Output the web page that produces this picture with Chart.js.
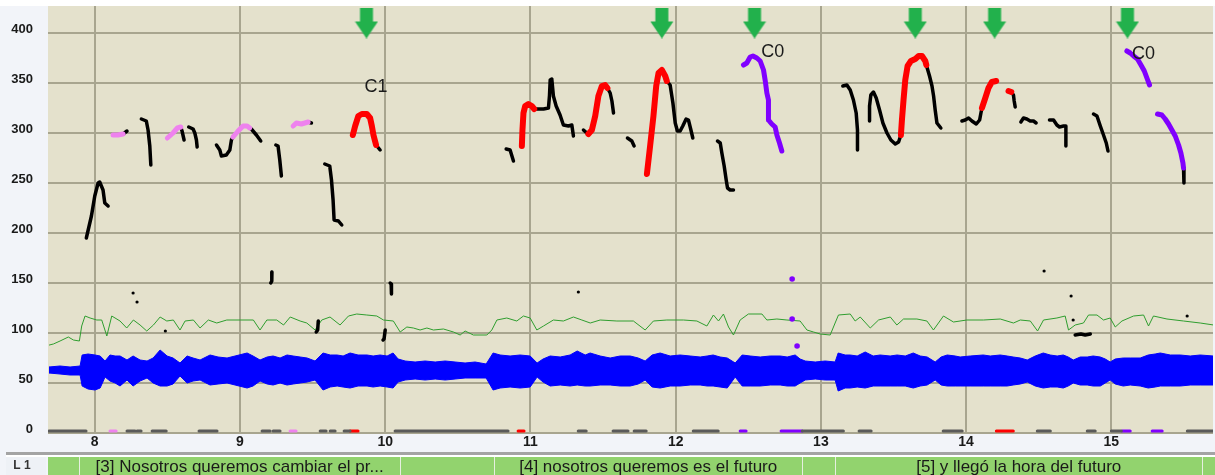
<!DOCTYPE html>
<html lang="es">
<head>
<meta charset="utf-8">
<title>Curva de F0 - L1</title>
<script src="https://cdn.jsdelivr.net/npm/chart.js@4.4.1/dist/chart.umd.min.js"></script>
<style>
    html, body { margin: 0; padding: 0; background: #f2f4f9; overflow: hidden; }
    #grafico { display: block; }
</style>
</head>
<body>
<canvas id="grafico" width="1215" height="475"></canvas>
<script>
// Ejes
const xTicks = [8, 9, 10, 11, 12, 13, 14, 15];
const yTicks = [0, 50, 100, 150, 200, 250, 300, 350, 400];
const xMin = 7.678, xMax = 15.70;
const yMin = 0, yMax = 427;

// Forma de onda (envolvente superior e inferior)
const waveTimes = [7.685, 7.761, 7.830, 7.899, 7.913, 7.954, 8.002, 8.037, 8.071, 8.105, 8.140, 8.174, 8.222, 8.264, 8.312, 8.360, 8.402, 8.450, 8.498, 8.539,
    8.587, 8.636, 8.677, 8.725, 8.794, 8.849, 8.911, 8.966, 9.049, 9.090, 9.138, 9.187, 9.228, 9.276, 9.324, 9.366, 9.414, 9.462, 9.517, 9.572,
    9.621, 9.669, 9.710, 9.758, 9.813, 9.875, 9.917, 9.965, 10.013, 10.054, 10.089, 10.137, 10.206, 10.275, 10.344, 10.413, 10.481, 10.550, 10.619, 10.695,
    10.743, 10.791, 10.860, 10.929, 10.998, 11.046, 11.087, 11.136, 11.205, 11.273, 11.322, 11.377, 11.411, 11.480, 11.549, 11.618, 11.687, 11.742, 11.790, 11.838,
    11.893, 11.962, 12.031, 12.100, 12.169, 12.217, 12.258, 12.306, 12.355, 12.410, 12.458, 12.513, 12.582, 12.651, 12.720, 12.768, 12.823, 12.857, 12.892, 12.961,
    13.030, 13.098, 13.119, 13.167, 13.202, 13.250, 13.305, 13.360, 13.408, 13.477, 13.525, 13.581, 13.636, 13.684, 13.732, 13.787, 13.828, 13.870, 13.925, 13.959,
    14.028, 14.118, 14.166, 14.235, 14.283, 14.324, 14.373, 14.421, 14.476, 14.531, 14.579, 14.627, 14.669, 14.703, 14.738, 14.786, 14.834, 14.875, 14.924, 14.958,
    14.992, 15.027, 15.082, 15.130, 15.199, 15.254, 15.302, 15.337, 15.406, 15.475, 15.543, 15.612, 15.702];
const waveUpper = [66, 67, 66, 67, 78, 79, 78, 77, 72, 78, 77, 77, 73, 77, 73, 72, 75, 83, 77, 75,
    70, 77, 75, 73, 78, 76, 75, 77, 80, 77, 73, 76, 77, 75, 78, 77, 76, 75, 72, 80,
    78, 78, 77, 80, 78, 78, 77, 78, 77, 80, 74, 72, 71, 72, 71, 72, 71, 70, 71, 69,
    80, 78, 77, 78, 77, 70, 74, 77, 76, 78, 82, 78, 80, 77, 75, 77, 77, 75, 72, 78,
    80, 77, 78, 77, 76, 77, 78, 76, 75, 70, 78, 77, 76, 77, 77, 76, 78, 74, 72, 71,
    72, 71, 80, 78, 78, 77, 81, 77, 78, 77, 78, 77, 80, 77, 76, 71, 76, 78, 77, 76,
    77, 78, 77, 78, 77, 76, 75, 73, 77, 80, 78, 77, 78, 76, 73, 76, 76, 77, 76, 74,
    71, 74, 75, 75, 75, 78, 79, 80, 78, 78, 77, 78, 77];
const waveLower = [60, 59, 58, 58, 47, 44, 43, 45, 56, 52, 50, 47, 53, 47, 52, 55, 50, 47, 47, 49,
    57, 50, 52, 53, 48, 49, 50, 48, 45, 47, 52, 49, 48, 50, 48, 49, 50, 51, 53, 43,
    46, 47, 46, 45, 47, 47, 46, 47, 46, 45, 51, 53, 54, 53, 54, 53, 54, 55, 55, 55,
    43, 45, 46, 45, 46, 56, 51, 47, 48, 47, 48, 47, 47, 48, 48, 47, 47, 49, 53, 46,
    45, 47, 47, 48, 48, 47, 47, 46, 45, 56, 47, 47, 47, 48, 48, 47, 47, 50, 53, 54,
    53, 53, 42, 45, 45, 46, 45, 47, 47, 47, 47, 47, 45, 47, 48, 53, 48, 47, 47, 47,
    47, 47, 47, 47, 47, 48, 49, 51, 47, 45, 46, 46, 45, 47, 50, 48, 48, 47, 47, 50,
    53, 49, 47, 48, 47, 45, 46, 47, 47, 47, 48, 48, 48];

// Curva de intensidad (verde)
const greenTimes = [7.687, 7.715, 7.761, 7.818, 7.853, 7.894, 7.910, 7.933, 7.968, 8.014, 8.048, 8.083, 8.117, 8.174, 8.220, 8.266, 8.312, 8.358, 8.404, 8.450,
    8.496, 8.541, 8.587, 8.622, 8.679, 8.725, 8.782, 8.840, 8.909, 9.001, 9.092, 9.138, 9.185, 9.253, 9.300, 9.346, 9.414, 9.460, 9.517, 9.563,
    9.620, 9.689, 9.747, 9.804, 9.873, 9.942, 9.988, 10.056, 10.103, 10.149, 10.194, 10.240, 10.287, 10.332, 10.401, 10.470, 10.516, 10.550, 10.607, 10.700,
    10.734, 10.769, 10.837, 10.906, 10.952, 10.998, 11.044, 11.090, 11.158, 11.227, 11.296, 11.354, 11.412, 11.480, 11.595, 11.709, 11.790, 11.847, 11.939, 12.054,
    12.146, 12.215, 12.260, 12.295, 12.329, 12.364, 12.398, 12.444, 12.501, 12.594, 12.628, 12.697, 12.766, 12.857, 12.904, 12.949, 12.995, 13.064, 13.098, 13.121,
    13.202, 13.236, 13.271, 13.340, 13.397, 13.478, 13.523, 13.569, 13.661, 13.730, 13.775, 13.844, 13.913, 14.005, 14.120, 14.235, 14.326, 14.373, 14.442, 14.492,
    14.533, 14.625, 14.682, 14.705, 14.751, 14.808, 14.843, 14.901, 14.946, 14.992, 15.027, 15.073, 15.153, 15.222, 15.256, 15.290, 15.383, 15.497, 15.612, 15.704];
const greenValues = [88, 89, 92, 96, 93, 92, 107, 117, 115, 113, 113, 97, 117, 112, 105, 113, 108, 102, 108, 116,
    112, 113, 103, 112, 113, 105, 113, 110, 113, 113, 113, 103, 113, 113, 108, 116, 112, 110, 103, 113,
    116, 108, 117, 119, 118, 117, 113, 112, 101, 106, 105, 103, 105, 103, 104, 101, 98, 102, 98, 98,
    103, 113, 115, 112, 117, 115, 103, 107, 113, 112, 116, 113, 110, 113, 112, 112, 103, 112, 113, 113,
    112, 107, 118, 112, 119, 106, 98, 113, 119, 119, 113, 114, 113, 112, 103, 101, 99, 98, 110, 118,
    119, 112, 116, 105, 113, 116, 108, 114, 114, 112, 103, 117, 111, 113, 113, 114, 110, 113, 112, 102,
    113, 115, 117, 103, 108, 110, 118, 118, 113, 115, 106, 112, 117, 118, 107, 117, 114, 112, 110, 108];

// Curvas de F0 (Hz), null = corte entre tramos
const pitchBlack = [
    [7.942, 195], [7.977, 217], [8.000, 237], [8.023, 250], [8.034, 251], [8.057, 243], [8.069, 230], [8.092, 227], null,
    [8.195, 299], [8.222, 302], null,
    [8.321, 314], [8.355, 312], [8.367, 303], [8.379, 287], [8.386, 268], null,
    [8.592, 306], [8.601, 302], [8.615, 293], null,
    [8.647, 306], [8.677, 304], [8.689, 300], [8.700, 293], [8.705, 286], null,
    [8.838, 288], [8.861, 283], [8.872, 277], [8.906, 278], [8.930, 283], [8.941, 293], [8.952, 296], null,
    [9.067, 305], [9.078, 304], [9.113, 298], [9.143, 292], null,
    [9.247, 288], [9.262, 287], [9.274, 273], [9.285, 257], null,
    [9.469, 311], [9.492, 310], null,
    [9.584, 269], [9.618, 267], [9.630, 253], [9.641, 233], [9.648, 213], [9.678, 212], [9.701, 208], null,
    [9.937, 288], [9.965, 283], null,
    [10.833, 284], [10.860, 283], [10.883, 272], null,
    [11.026, 324], [11.090, 324], [11.124, 325], [11.131, 337], [11.136, 353], [11.147, 354], [11.158, 337], [11.177, 327],
    [11.204, 318], [11.227, 308], [11.262, 307], [11.285, 308], [11.296, 297], null,
    [11.365, 303], [11.388, 300], [11.399, 299], null,
    [11.530, 345], [11.549, 340], [11.561, 332], [11.572, 320], null,
    [11.668, 295], [11.698, 292], [11.714, 287], null,
    [11.939, 352], [11.962, 348], [11.981, 330], [11.997, 310], [12.012, 302], [12.031, 302], [12.049, 307], [12.072, 314],
    [12.088, 313], [12.105, 303], [12.118, 295], null,
    [12.288, 292], [12.307, 290], [12.318, 280], [12.334, 267], [12.348, 253], [12.357, 245], [12.375, 243], [12.398, 243], null,
    [13.151, 347], [13.179, 348], [13.202, 343], [13.224, 333], [13.243, 320], [13.252, 303], [13.252, 283], null,
    [13.335, 312], [13.335, 327], [13.344, 338], [13.362, 341], [13.381, 335], [13.404, 323], [13.427, 310], [13.455, 300],
    [13.482, 293], [13.512, 289], [13.535, 291], [13.551, 298], null,
    [13.726, 368], [13.748, 357], [13.765, 347], [13.776, 337], [13.787, 323], [13.799, 310], [13.826, 305], null,
    [13.971, 312], [13.994, 313], [14.017, 315], [14.040, 312], [14.070, 309], [14.093, 313], [14.102, 320], [14.109, 325], null,
    [14.311, 341], [14.326, 338], [14.331, 332], [14.338, 326], null,
    [14.377, 311], [14.395, 315], [14.418, 314], [14.441, 312], [14.464, 312], [14.482, 310], null,
    [14.574, 313], [14.602, 313], [14.625, 308], [14.643, 306], [14.671, 307], [14.687, 307], [14.687, 287], null,
    [14.877, 319], [14.901, 317], [14.924, 307], [14.946, 298], [14.965, 290], [14.977, 282], null,
    [15.497, 265], [15.500, 250], null,
    [9.220, 161], [9.219, 152], [9.212, 150], null,
    [10.034, 150], [10.041, 149], [10.043, 139], null,
    [9.539, 112], [9.535, 103], [9.525, 101], null,
    [10.000, 103], [9.992, 94], [9.985, 93], null,
    [14.751, 98], [14.790, 99], [14.820, 98], [14.855, 99]
];
const pitchRed = [
    [9.777, 298], [9.793, 307], [9.815, 317], [9.839, 319], [9.873, 319], [9.896, 315], [9.908, 307], [9.919, 298], [9.937, 288], null,
    [10.941, 287], [10.945, 303], [10.952, 320], [10.964, 327], [10.986, 329], [11.009, 327], [11.026, 324], null,
    [11.399, 299], [11.423, 303], [11.446, 317], [11.468, 337], [11.492, 347], [11.514, 348], [11.530, 345], null,
    [11.802, 259], [11.824, 287], [11.847, 317], [11.866, 347], [11.882, 360], [11.905, 363], [11.928, 357], [11.939, 352], null,
    [13.551, 298], [13.558, 313], [13.569, 333], [13.581, 353], [13.597, 367], [13.620, 372], [13.650, 374], [13.673, 377],
    [13.696, 377], [13.719, 372], [13.726, 368], null,
    [14.109, 325], [14.132, 335], [14.154, 345], [14.177, 351], [14.207, 352], null,
    [14.292, 342], [14.311, 341]
];
const pitchPink = [
    [8.126, 298], [8.160, 298], [8.195, 299], null,
    [8.500, 295], [8.539, 300], [8.569, 305], [8.592, 306], null,
    [8.952, 296], [8.987, 302], [9.021, 307], [9.049, 307], [9.067, 305], null,
    [9.366, 307], [9.388, 310], [9.423, 309], [9.469, 311]
];
const pitchPurple = [
    [12.467, 368], [12.490, 370], [12.513, 376], [12.532, 377], [12.559, 375], [12.582, 372], [12.605, 363], [12.617, 352],
    [12.628, 340], [12.639, 333], [12.639, 323], [12.639, 313], [12.662, 309], [12.685, 306], [12.697, 298], [12.715, 290], [12.731, 282], null,
    [15.107, 382], [15.130, 380], [15.153, 377], [15.180, 374], [15.204, 368], [15.227, 362], [15.250, 353], [15.263, 348], null,
    [15.318, 319], [15.348, 318], [15.371, 314], [15.394, 309], [15.417, 303], [15.440, 297], [15.463, 288], [15.479, 280], [15.493, 270], [15.497, 265]
];

// Puntos sueltos
const blackDotTimes = [8.264, 8.291, 8.486, 11.330, 14.537, 14.723, 14.737, 15.522];
const blackDotHz = [140, 131, 102, 141, 162, 137, 113, 117];
const purpleDotTimes = [12.802, 12.802, 12.836];
const purpleDotHz = [154, 114, 87];

// Marcas de prominencia (flechas) y etiquetas
const arrowTimes = [9.871, 11.905, 12.543, 13.650, 14.196, 15.111];
const arrowHz = 410;
const noteTimes = [9.937, 12.668, 15.221];
const noteHz = [346, 381, 379];
const noteTexts = ['C1', 'C0', 'C0'];

// Marcas en la base (segmentos)
const markStart = [7.685, 8.105, 8.222, 8.291, 8.395, 8.718, 9.152, 9.228, 9.345, 9.552, 9.621, 9.717, 9.758, 10.068, 10.915, 11.329, 11.569, 11.714,
    12.121, 12.444, 12.726, 12.872, 13.263, 13.842, 14.208, 14.490, 14.834, 15.000, 15.075, 15.281, 15.523];
const markEnd = [7.940, 8.147, 8.278, 8.319, 8.492, 8.842, 9.207, 9.276, 9.386, 9.593, 9.655, 9.758, 9.813, 10.846, 10.956, 11.384, 11.672, 11.797,
    12.293, 12.485, 12.871, 13.155, 13.346, 13.973, 14.325, 14.580, 14.889, 15.069, 15.130, 15.350, 15.709];
const markKind = ['plain', 'pink', 'plain', 'plain', 'plain', 'plain', 'plain', 'plain', 'pink', 'plain', 'plain', 'plain', 'red', 'plain', 'red', 'plain', 'plain', 'plain',
    'plain', 'purple', 'purple', 'plain', 'plain', 'plain', 'red', 'plain', 'plain', 'plain', 'purple', 'purple', 'plain'];

// Capa de anotación L1
const tierBreaks = [7.892, 10.103, 10.750, 12.872, 13.100, 15.625];
const tierFrom = [7.892, 10.750, 13.100];
const tierTo = [10.103, 12.872, 15.625];
const tierTexts = ['[3] Nosotros queremos cambiar el pr...', '[4] nosotros queremos es el futuro', '[5] y llegó la hora del futuro'];

const markColors = { plain: '#5a5a5a', pink: '#ee82ee', red: '#ff0000', purple: '#8000ff' };

// Convierte pares [t, hz] en puntos, con cortes donde hay null
function toPoints(pairs) {
    const pts = [];
    let lastX = xMin;
    pairs.forEach(p => {
        if (p === null) {
            pts.push({ x: lastX, y: null });
        } else {
            lastX = p[0];
            pts.push({ x: p[0], y: p[1] });
        }
    });
    return pts;
}

function zipPoints(xs, ys) {
    return xs.map((x, i) => ({ x: x, y: ys[i] }));
}

function markPoints(kind) {
    const pts = [];
    markStart.forEach((s, i) => {
        if (markKind[i] !== kind) return;
        pts.push({ x: s, y: 2 }, { x: markEnd[i], y: 2 }, { x: markEnd[i], y: null });
    });
    return pts;
}

// Flecha verde como imagen de punto
function makeArrow() {
    const c = document.createElement('canvas');
    c.width = 24;
    c.height = 31;
    const g = c.getContext('2d');
    g.fillStyle = '#22b14c';
    g.fillRect(5.5, 0, 13, 15);
    g.beginPath();
    g.moveTo(0.5, 14);
    g.lineTo(23.5, 14);
    g.lineTo(12, 31);
    g.closePath();
    g.fill();
    return c;
}

function lineSet(points, color, width, order) {
    return {
        data: points,
        borderColor: color,
        backgroundColor: color,
        borderWidth: width,
        pointRadius: 0,
        spanGaps: false,
        borderCapStyle: 'round',
        borderJoinStyle: 'round',
        tension: 0,
        order: order
    };
}

// Sin márgenes automáticos de las escalas: el área del gráfico queda fija
function noScalePadding(scale) {
    scale.paddingTop = 0;
    scale.paddingBottom = 0;
    scale.paddingLeft = 0;
    scale.paddingRight = 0;
}

// Fondos, etiquetas y capa L1
const decorPlugin = {
    id: 'decor',
    beforeDraw(chart) {
        const ctx = chart.ctx;
        const a = chart.chartArea;
        ctx.save();
        ctx.fillStyle = '#f2f4f9';
        ctx.fillRect(0, 0, chart.width, chart.height);
        ctx.fillStyle = '#ffffff';
        ctx.fillRect(0, 0, chart.width, a.top);
        ctx.fillStyle = '#e4e1cc';
        ctx.fillRect(a.left, a.top, a.right - a.left, a.bottom - a.top);
        ctx.restore();
    },
    afterDatasetsDraw(chart) {
        const ctx = chart.ctx;
        const xs = chart.scales.x, ys = chart.scales.y;
        ctx.save();
        ctx.fillStyle = '#1a1a1a';
        ctx.font = '18px "Liberation Sans", Arial, sans-serif';
        ctx.textAlign = 'center';
        ctx.textBaseline = 'middle';
        noteTexts.forEach((t, i) => {
            ctx.fillText(t, xs.getPixelForValue(noteTimes[i]), ys.getPixelForValue(noteHz[i]));
        });
        ctx.restore();
    },
    afterDraw(chart) {
        const ctx = chart.ctx;
        const xs = chart.scales.x;
        const top = 457, h = chart.height - top;
        ctx.save();
        // separador
        ctx.fillStyle = '#a4a4a4';
        ctx.fillRect(6, 452, chart.width - 6, 3);
        ctx.fillStyle = '#ffffff';
        ctx.fillRect(6, 455, chart.width - 6, 2);
        // etiqueta de capa
        ctx.fillStyle = '#eef1f6';
        ctx.fillRect(6, top, 40, h);
        ctx.fillStyle = '#333333';
        ctx.font = 'bold 12px "Liberation Sans", Arial, sans-serif';
        ctx.textAlign = 'center';
        ctx.textBaseline = 'middle';
        ctx.fillText('L 1', 22, top + h / 2);
        // banda verde
        ctx.fillStyle = '#92d36e';
        ctx.fillRect(48, top, chart.width - 48, h);
        ctx.fillStyle = '#e6efe0';
        tierBreaks.forEach(t => {
            ctx.fillRect(Math.round(xs.getPixelForValue(t)), top, 1, h);
        });
        ctx.fillStyle = '#1a1a1a';
        ctx.font = '17px "Liberation Sans", Arial, sans-serif';
        tierTexts.forEach((txt, i) => {
            const x = (xs.getPixelForValue(tierFrom[i]) + xs.getPixelForValue(tierTo[i])) / 2;
            ctx.fillText(txt, x, top + h / 2 + 1);
        });
        ctx.restore();
    }
};

document.addEventListener('DOMContentLoaded', function() {
    const ctx = document.getElementById('grafico').getContext('2d');

    const datasets = [
        // flechas
        {
            data: arrowTimes.map(t => ({ x: t, y: arrowHz })),
            showLine: false,
            pointStyle: makeArrow(),
            pointRadius: 12,
            order: 0
        },
        lineSet(toPoints(pitchRed), '#ff0000', 6, 1),
        lineSet(toPoints(pitchPurple), '#8000ff', 5, 1),
        lineSet(toPoints(pitchPink), '#ee82ee', 5, 2),
        lineSet(toPoints(pitchBlack), '#000000', 3.5, 2),
        {
            data: zipPoints(blackDotTimes, blackDotHz),
            showLine: false,
            pointRadius: 1.6,
            pointBorderWidth: 0,
            pointBackgroundColor: '#000000',
            order: 3
        },
        {
            data: zipPoints(purpleDotTimes, purpleDotHz),
            showLine: false,
            pointRadius: 2.8,
            pointBorderWidth: 0,
            pointBackgroundColor: '#8000ff',
            order: 3
        },
        lineSet(markPoints('plain'), markColors.plain, 3, 4),
        lineSet(markPoints('pink'), markColors.pink, 3, 4),
        lineSet(markPoints('red'), markColors.red, 3, 4),
        lineSet(markPoints('purple'), markColors.purple, 3, 4),
        lineSet(zipPoints(greenTimes, greenValues), '#2f9e2f', 1, 5)
    ];

    // forma de onda: envolvente superior rellena hasta la inferior
    const waveTop = lineSet(zipPoints(waveTimes, waveUpper), '#0000ff', 1, 6);
    waveTop.fill = { target: '+1' };
    waveTop.backgroundColor = '#0000ff';
    waveTop.borderJoinStyle = 'miter';
    const waveBottom = lineSet(zipPoints(waveTimes, waveLower), '#0000ff', 1, 6);
    waveBottom.borderJoinStyle = 'miter';
    datasets.push(waveTop, waveBottom);

    new Chart(ctx, {
        type: 'line',
        data: { datasets: datasets },
        options: {
            responsive: false,
            devicePixelRatio: 1,
            animation: false,
            events: [],
            layout: { autoPadding: false, padding: { top: 6, right: 2, bottom: 22, left: 0 } },
            plugins: {
                legend: { display: false },
                tooltip: { enabled: false }
            },
            scales: {
                x: {
                    type: 'linear',
                    min: xMin,
                    max: xMax,
                    afterFit: scale => { scale.height = 20; noScalePadding(scale); },
                    afterBuildTicks: scale => { scale.ticks = xTicks.map(v => ({ value: v })); },
                    grid: { color: '#a8a58f', lineWidth: 2, drawTicks: false },
                    border: { display: false },
                    ticks: {
                        padding: 1,
                        color: '#1a1a1a',
                        font: { family: '"Liberation Sans", Arial, sans-serif', size: 14, weight: 'bold' },
                        callback: v => String(v)
                    }
                },
                y: {
                    min: yMin,
                    max: yMax,
                    afterFit: scale => { scale.width = 48; noScalePadding(scale); },
                    afterBuildTicks: scale => { scale.ticks = yTicks.map(v => ({ value: v })); },
                    grid: { color: '#a8a58f', lineWidth: 2, drawTicks: false },
                    border: { display: false },
                    ticks: {
                        padding: 15,
                        labelOffset: -4,
                        color: '#1a1a1a',
                        font: { family: '"Liberation Sans", Arial, sans-serif', size: 13, weight: 'bold' },
                        callback: v => String(v)
                    }
                }
            }
        },
        plugins: [decorPlugin]
    });
});
</script>
</body>
</html>
